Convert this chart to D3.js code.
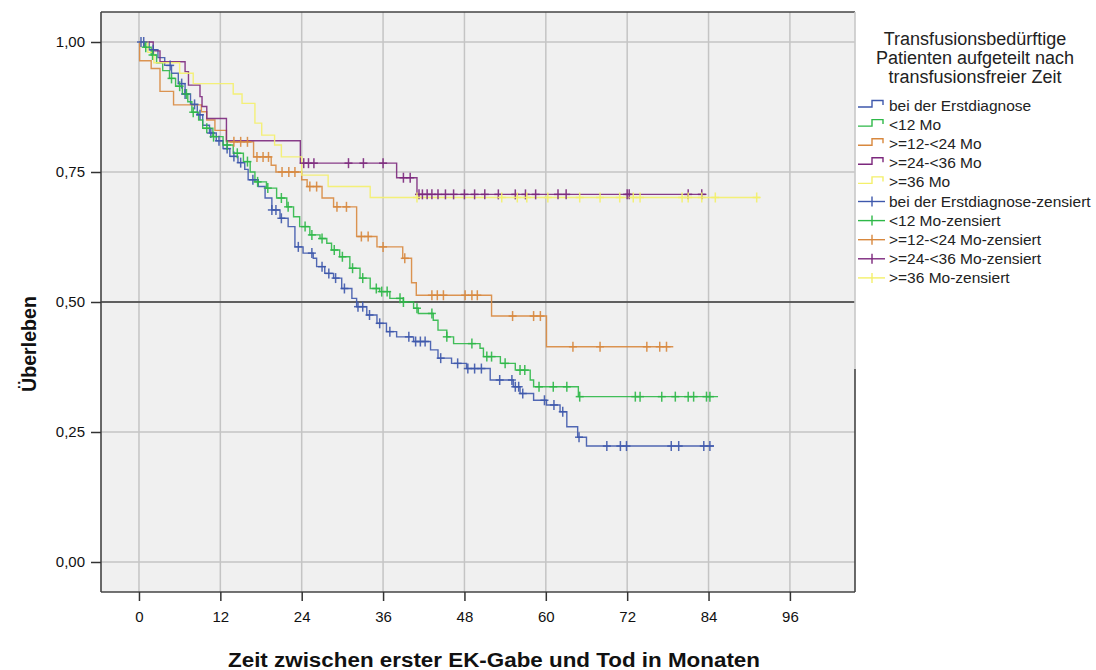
<!DOCTYPE html>
<html>
<head>
<meta charset="utf-8">
<script src="https://cdn.jsdelivr.net/npm/d3@7"></script>
<style>
  html, body { margin: 0; padding: 0; background: #ffffff; }
  svg { display: block; font-family: "Liberation Sans", Arial, sans-serif; }
</style>
</head>
<body>
<svg id="chart" width="1096" height="670"></svg>
<script>
// ---------- DATA ----------
const xTicks = [0, 12, 24, 36, 48, 60, 72, 84, 96];
const yTicks = [0, 0.25, 0.5, 0.75, 1.0];
const yTickLabels = ["0,00", "0,25", "0,50", "0,75", "1,00"];

const seriesNames = ["bei der Erstdiagnose", "<12 Mo", ">=12-<24 Mo", ">=24-<36 Mo", ">=36 Mo"];
const seriesColors = ["#3e58ac", "#2eb848", "#d8883e", "#7c287d", "#f4f06a"];

// step points: [time (months), survival after the step]
const stepsErstdiagnose = [[0,1.0],[1.5,0.985],[2.8,0.97],[3.8,0.955],[4.8,0.94],[5.8,0.92],[6.8,0.90],[7.6,0.88],[8.6,0.86],[9.4,0.84],[10.4,0.825],[11.4,0.81],[12.4,0.795],[13.4,0.78],[14.6,0.768],[15.6,0.755],[16.1,0.735],[17.6,0.722],[18.6,0.70],[19.6,0.677],[20.8,0.661],[22.0,0.645],[23.0,0.606],[24.2,0.594],[25.7,0.584],[26.2,0.568],[27.4,0.555],[28.7,0.546],[29.9,0.526],[31.4,0.507],[32.1,0.491],[33.6,0.475],[35.1,0.459],[36.5,0.443],[38.0,0.433],[40.5,0.424],[43.0,0.408],[44.1,0.392],[46.1,0.382],[48.3,0.372],[51.8,0.35],[55.2,0.337],[56.2,0.324],[58.2,0.311],[60.1,0.302],[62.1,0.289],[63.1,0.26],[64.7,0.24],[66.0,0.223]];
const endErstdiagnose = 84.8;
const censErstdiagnose = [0.3,0.7,2.1,4.6,6.3,6.8,8.2,9.0,10.6,11.8,13.0,14.0,15.0,16.8,19.6,20.2,21.0,23.5,25.5,27.0,28.0,29.0,30.3,32.3,33.0,34.0,35.5,37.0,39.8,40.8,41.5,42.2,44.5,47.0,48.5,49.5,50.5,53.2,55.0,55.5,56.0,56.6,59.8,61.2,62.5,64.9,69.0,71.0,71.9,78.5,79.6,83.3,84.2];

const stepsLt12 = [[0,1.0],[0.8,0.99],[1.8,0.975],[2.6,0.96],[3.5,0.945],[4.5,0.93],[5.4,0.915],[6.4,0.90],[7.2,0.885],[7.8,0.865],[8.8,0.85],[9.4,0.834],[10.9,0.818],[12.4,0.802],[13.9,0.786],[15.4,0.77],[16.4,0.75],[17.1,0.731],[18.8,0.719],[20.3,0.70],[21.8,0.683],[22.8,0.664],[23.7,0.645],[25.2,0.629],[26.7,0.622],[27.7,0.613],[28.4,0.60],[29.6,0.587],[31.1,0.565],[32.6,0.546],[34.1,0.526],[35.5,0.52],[37.0,0.507],[39.0,0.50],[40.5,0.488],[41.2,0.478],[43.4,0.465],[44.1,0.446],[45.4,0.433],[46.4,0.42],[50.3,0.411],[50.8,0.395],[53.3,0.382],[55.5,0.369],[57.7,0.35],[58.2,0.337],[64.8,0.318]];
const endLt12 = 85.4;
const censLt12 = [1.0,2.0,4.8,6.0,7.0,8.0,10.0,11.0,13.0,14.5,16.0,17.5,19.0,21.0,22.0,24.5,25.5,27.0,28.8,30.0,31.5,33.0,35.0,35.8,36.6,38.5,39.0,41.0,43.2,45.4,49.1,51.3,52.0,54.0,56.2,56.9,59.0,61.1,63.1,65.0,73.2,73.9,77.1,79.1,81.0,81.8,83.7,84.2];

const steps12to24 = [[0,1.0],[0.1,0.964],[1.8,0.949],[3.1,0.905],[5.1,0.879],[9.2,0.866],[10.0,0.85],[11.2,0.83],[12.9,0.808],[16.9,0.779],[19.5,0.763],[20.2,0.75],[24.0,0.735],[24.8,0.722],[27.0,0.70],[28.7,0.683],[32.1,0.626],[35.1,0.606],[38.9,0.584],[40.2,0.537],[40.9,0.513],[52.0,0.473],[60.1,0.414]];
const end12to24 = 78.8;
const cens12to24 = [14.0,15.0,16.0,17.4,18.3,19.1,21.1,22.1,23.0,25.2,26.2,29.2,30.6,32.8,33.8,36.0,39.2,43.2,44.0,44.9,48.1,49.1,49.9,55.1,58.2,59.2,64.0,68.0,74.9,76.8,77.8];

const steps24to36 = [[0,1.0],[2.1,0.983],[3.1,0.962],[6.8,0.943],[7.3,0.917],[9.0,0.895],[9.3,0.876],[10.0,0.853],[12.9,0.81],[23.8,0.767],[38.0,0.739],[41.0,0.707]];
const end24to36 = 83.7;
const cens24to36 = [24.3,25.0,25.8,30.9,33.1,36.0,39.0,40.0,41.3,41.8,42.5,43.2,44.1,45.2,46.4,48.0,49.5,51.0,53.0,55.5,57.0,58.5,61.8,63.0,72.0,72.3,81.0,83.0];

const stepsGe36 = [[0,1.0],[1.3,0.98],[2.2,0.96],[6.0,0.94],[8.0,0.92],[13.9,0.90],[15.2,0.882],[17.1,0.844],[18.1,0.821],[20.0,0.802],[21.0,0.779],[24.0,0.744],[27.9,0.722],[34.1,0.701]];
const endGe36 = 91.6;
const censGe36 = [41.0,53.5,55.8,57.2,60.3,65.0,68.0,70.9,72.9,73.9,80.1,81.0,83.0,85.0,91.1];

const legendTitle = ["Transfusionsbedürftige", "Patienten aufgeteilt nach", "transfusionsfreier Zeit"];
const xTitle = "Zeit zwischen erster EK-Gabe und Tod in Monaten";
const yTitle = "Überleben";

// ---------- BUILD ----------
const series = [
  {steps: stepsErstdiagnose, end: endErstdiagnose, cens: censErstdiagnose},
  {steps: stepsLt12, end: endLt12, cens: censLt12},
  {steps: steps12to24, end: end12to24, cens: cens12to24},
  {steps: steps24to36, end: end24to36, cens: cens24to36},
  {steps: stepsGe36, end: endGe36, cens: censGe36}
].map((s, i) => ({...s, name: seriesNames[i], color: seriesColors[i]}));

const svg = d3.select("#chart");
const L = 101, R = 855, T = 12, B = 592;
const x = d3.scaleLinear().domain([-5.6, 105.6]).range([L, R]);
const y = d3.scaleLinear().domain([-0.0577, 1.0577]).range([B, T]);

// plot background
svg.append("rect").attr("x", L).attr("y", T).attr("width", R - L).attr("height", B - T).attr("fill", "#f0f0f0");

// gridlines
svg.append("g").selectAll("line").data(xTicks).join("line")
  .attr("x1", d => x(d)).attr("x2", d => x(d)).attr("y1", T).attr("y2", B)
  .attr("stroke", "#c4c4c4").attr("stroke-width", 1.5);
svg.append("g").selectAll("line").data(yTicks).join("line")
  .attr("x1", L).attr("x2", R).attr("y1", d => y(d)).attr("y2", d => y(d))
  .attr("stroke", "#c4c4c4").attr("stroke-width", 1.5);

// reference line at 0.5
svg.append("line").attr("x1", L).attr("x2", R).attr("y1", y(0.5)).attr("y2", y(0.5))
  .attr("stroke", "#3a3a3a").attr("stroke-width", 1.5);

// curves
const line = d3.line().x(d => x(d[0])).y(d => y(d[1])).curve(d3.curveStepAfter);
function survAt(steps, t) {
  let s = 1;
  for (const p of steps) { if (p[0] <= t) s = p[1]; else break; }
  return s;
}
series.forEach(s => {
  const pts = s.steps.concat([[s.end, s.steps[s.steps.length - 1][1]]]);
  svg.append("path").attr("d", line(pts)).attr("fill", "none")
    .attr("stroke", s.color).attr("stroke-width", 1.4).attr("opacity", 0.9);
});
series.forEach(s => {
  const g = svg.append("g").attr("stroke", s.color).attr("stroke-width", 1.5).attr("opacity", 0.9);
  s.cens.forEach(t => {
    const cx = x(t), cy = y(survAt(s.steps, t));
    g.append("line").attr("x1", cx).attr("x2", cx).attr("y1", cy - 5).attr("y2", cy + 5);
    g.append("line").attr("x1", cx - 4).attr("x2", cx + 4).attr("y1", cy).attr("y2", cy);
  });
});

// frame
const frame = svg.append("g").attr("stroke", "#444").attr("stroke-width", 1.6);
frame.append("line").attr("x1", L).attr("x2", R).attr("y1", T).attr("y2", T);
frame.append("line").attr("x1", L).attr("x2", R).attr("y1", B).attr("y2", B);
frame.append("line").attr("x1", L).attr("x2", L).attr("y1", T).attr("y2", B);
svg.append("line").attr("x1", R).attr("x2", R).attr("y1", T).attr("y2", 369).attr("stroke", "#c8c8c8").attr("stroke-width", 1.6);
svg.append("line").attr("x1", R).attr("x2", R).attr("y1", 369).attr("y2", B).attr("stroke", "#444").attr("stroke-width", 1.6);

// axes
const xAxis = d3.axisBottom(x).tickValues(xTicks).tickSize(9).tickPadding(10).tickFormat(d3.format("d"));
const gx = svg.append("g").attr("transform", `translate(0,${B})`).call(xAxis);
gx.select(".domain").remove();
gx.selectAll(".tick line").attr("stroke", "#333").attr("stroke-width", 1.5);
gx.selectAll(".tick text").attr("font-size", 15).attr("fill", "#111").attr("font-family", "Liberation Sans, Arial, sans-serif");

const yAxis = d3.axisLeft(y).tickValues(yTicks).tickSize(10).tickPadding(6).tickFormat((d, i) => yTickLabels[i]);
const gy = svg.append("g").attr("transform", `translate(${L},0)`).call(yAxis);
gy.select(".domain").remove();
gy.selectAll(".tick line").attr("stroke", "#333").attr("stroke-width", 1.5);
gy.selectAll(".tick text").attr("font-size", 15).attr("fill", "#111").attr("font-family", "Liberation Sans, Arial, sans-serif");

// axis titles
svg.append("text").attr("x", 228).attr("y", 667)
  .attr("textLength", 532).attr("lengthAdjust", "spacingAndGlyphs")
  .attr("font-size", 20).attr("font-weight", "bold").attr("fill", "#111").text(xTitle);
svg.append("text").attr("transform", "translate(36,392) rotate(-90)")
  .attr("textLength", 96).attr("lengthAdjust", "spacingAndGlyphs")
  .attr("font-size", 20).attr("font-weight", "bold").attr("fill", "#111").text(yTitle);

// legend
const lg = svg.append("g");
legendTitle.forEach((t, i) => {
  lg.append("text").attr("x", 975).attr("y", 45 + i * 19).attr("text-anchor", "middle")
    .attr("font-size", 18).attr("fill", "#222").text(t);
});
const rowY = i => 106 + i * 19.1;
series.forEach((s, i) => {
  const cy = rowY(i);
  lg.append("path").attr("d", `M858,${cy + 1} H872 V${cy - 5.5} H883 V${cy - 1}`)
    .attr("fill", "none").attr("stroke", s.color).attr("stroke-width", 1.4);
  lg.append("text").attr("x", 889).attr("y", cy + 5).attr("font-size", 15.5).attr("fill", "#222").text(s.name);
});
series.forEach((s, i) => {
  const cy = rowY(i + 5);
  lg.append("line").attr("x1", 858).attr("x2", 885).attr("y1", cy).attr("y2", cy).attr("stroke", s.color).attr("stroke-width", 1.4);
  lg.append("line").attr("x1", 872).attr("x2", 872).attr("y1", cy - 5).attr("y2", cy + 5).attr("stroke", s.color).attr("stroke-width", 1.4);
  lg.append("text").attr("x", 889).attr("y", cy + 5).attr("font-size", 15.5).attr("fill", "#222").text(s.name + "-zensiert");
});
</script>
</body>
</html>
